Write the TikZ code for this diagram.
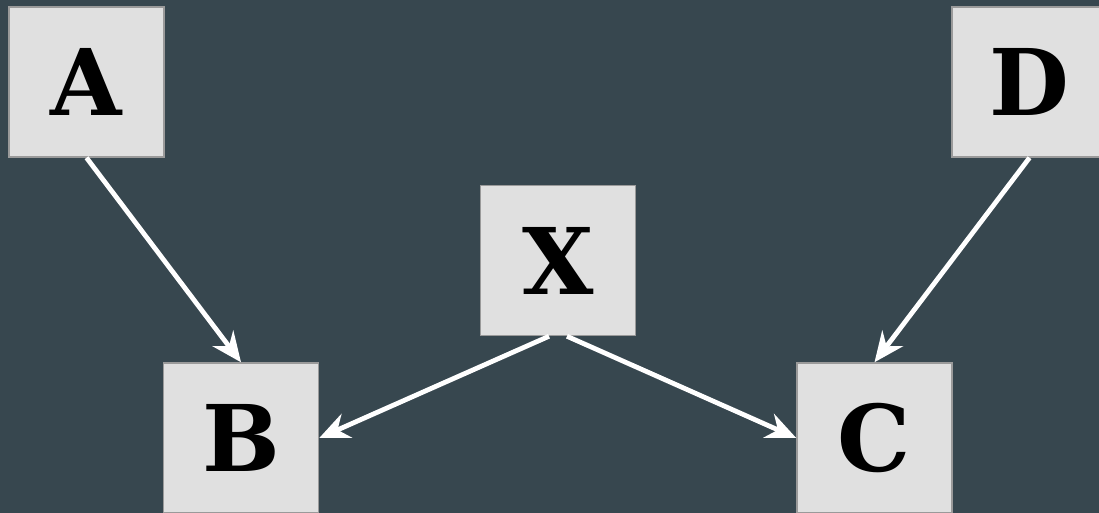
\documentclass[tikz,border=0pt]{standalone}
\usepackage{fontspec}
\setmainfont{DejaVu Serif}
\usetikzlibrary{arrows.meta}
\definecolor{bgslate}{HTML}{37474F}
\definecolor{boxfill}{HTML}{E0E0E0}
\definecolor{boxline}{HTML}{9A9A9A}
\tikzset{
  letterbox/.style={rectangle, fill=boxfill, draw=boxline, line width=1.5pt,
    minimum width=155pt, minimum height=150pt, inner sep=0pt,
    font=\fontsize{92}{96}\selectfont\bfseries, text=black},
  link/.style={draw=white, line width=4.8pt,
    -{Stealth[length=30pt, width=26pt, inset=10pt]}}
}
\begin{document}
\begin{tikzpicture}[x=1pt, y=-1pt]
  \fill[bgslate] (0,0) rectangle (1099,513);
  \useasboundingbox (0,0) rectangle (1099,513);
  \clip (0,0) rectangle (1099,513);
  \node[letterbox] (A) at (86.5,82) {A};
  \node[letterbox] (D) at (1029.5,82) {D};
  \node[letterbox] (X) at (558,260.5) {X};
  \node[letterbox] (B) at (241,438) {B};
  \node[letterbox] (C) at (874.5,438) {C};
  \draw[link] (A.south) -- (B.north);
  \draw[link] ([xshift=-9pt]X.south) -- (B.east);
  \draw[link] ([xshift=9pt]X.south) -- (C.west);
  \draw[link] (D.south) -- (C.north);
\end{tikzpicture}
\end{document}
